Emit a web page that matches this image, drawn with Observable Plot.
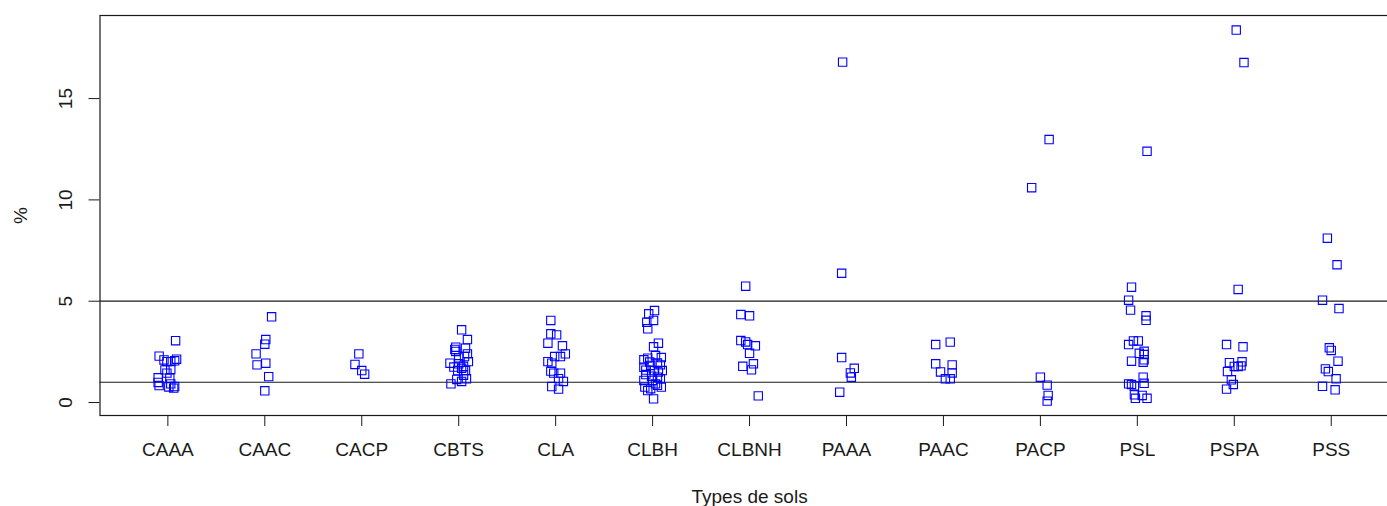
<!DOCTYPE html>
<html>
<head>
<meta charset="utf-8">
<script src="https://cdn.jsdelivr.net/npm/d3@7"></script>
<script src="https://cdn.jsdelivr.net/npm/@observablehq/plot@0.6"></script>
<style>
  html, body { margin: 0; padding: 0; background: white; overflow: hidden; }
</style>
</head>
<body>
<div id="chart"></div>
<script>
// Soil types (x categories)
const categories = ["CAAA","CAAC","CACP","CBTS","CLA","CLBH","CLBNH","PAAA","PAAC","PACP","PSL","PSPA","PSS"];
const yTicks = [0, 5, 10, 15];
const refLines = [1, 5];
const xLabel = "Types de sols";
const yLabel = "%";

// Each point: [value (%), jitter (fraction of category spacing)]
const CAAA = [[3.05,0.08],[2.29,-0.09],[2.02,-0.01],[2.14,0.09],[2.06,0.07],[2.02,0.03],[2.10,-0.04],[1.61,-0.03],[1.63,0.03],[1.45,-0.01],[1.22,-0.10],[1.20,0.02],[0.99,-0.10],[0.92,0.03],[0.84,-0.09],[0.77,0.01],[0.79,0.07],[0.71,0.06]];
const CAAC = [[4.23,0.07],[3.11,0.01],[2.88,0.00],[2.40,-0.09],[1.86,-0.08],[1.94,0.01],[1.28,0.04],[0.58,0.00]];
const CACP = [[2.40,-0.03],[1.88,-0.07],[1.58,0.00],[1.40,0.03]];
const CBTS = [[3.59,0.03],[3.11,0.09],[2.73,-0.03],[2.62,-0.04],[2.52,-0.03],[2.68,0.07],[2.40,0.09],[2.27,0.06],[2.20,0.00],[1.94,-0.09],[1.91,0.00],[2.02,0.10],[1.79,0.05],[1.75,-0.05],[1.69,0.03],[1.58,0.07],[1.58,-0.01],[1.35,0.05],[1.17,0.08],[1.14,-0.02],[1.04,0.03],[0.92,-0.08]];
const CLA = [[4.05,-0.05],[3.39,-0.05],[3.34,0.01],[2.93,-0.08],[2.80,0.07],[2.40,0.10],[2.27,-0.01],[2.27,0.05],[2.02,-0.08],[1.94,-0.04],[1.55,-0.05],[1.45,-0.02],[1.45,0.05],[1.18,0.03],[1.04,0.08],[0.79,-0.04],[0.66,0.03]];
const CLBH = [[4.54,0.02],[4.38,-0.04],[4.05,0.01],[3.96,-0.06],[3.64,-0.05],[2.93,0.06],[2.75,0.01],[2.19,-0.05],[2.22,0.09],[2.32,0.03],[2.11,-0.09],[2.00,-0.03],[1.95,0.05],[1.74,-0.09],[1.83,-0.02],[1.86,0.08],[1.60,-0.07],[1.58,0.10],[1.58,0.02],[1.50,0.06],[1.38,-0.07],[1.30,-0.01],[1.25,0.05],[1.09,-0.09],[1.09,0.00],[1.17,0.08],[0.92,0.03],[0.85,0.05],[0.76,-0.08],[0.68,-0.02],[0.76,0.09],[0.59,-0.05],[0.18,0.01]];
const CLBNH = [[5.74,-0.04],[4.34,-0.09],[4.28,0.00],[3.06,-0.09],[2.99,-0.04],[2.86,-0.02],[2.80,0.06],[2.43,0.00],[1.79,-0.07],[1.91,0.04],[1.61,0.02],[0.33,0.09]];
const PAAA = [[16.80,-0.04],[6.38,-0.05],[2.22,-0.05],[1.69,0.08],[1.46,0.04],[1.25,0.05],[0.51,-0.07]];
const PAAC = [[2.86,-0.08],[2.98,0.07],[1.91,-0.08],[1.86,0.09],[1.51,-0.03],[1.46,0.09],[1.17,0.02],[1.17,0.07]];
const PACP = [[12.98,0.09],[10.60,-0.09],[1.25,0.00],[0.86,0.07],[0.35,0.08],[0.07,0.07]];
const PSL = [[12.40,0.10],[5.69,-0.06],[5.05,-0.09],[4.56,-0.07],[4.28,0.09],[4.06,0.09],[3.04,-0.04],[3.04,0.01],[2.86,-0.09],[2.53,0.07],[2.43,0.02],[2.37,0.07],[2.11,0.07],[2.04,-0.06],[1.99,0.06],[1.25,0.06],[0.95,0.07],[0.92,-0.09],[0.89,-0.06],[0.82,-0.03],[0.38,-0.03],[0.35,0.05],[0.21,-0.02],[0.21,0.10]];
const PSPA = [[18.38,0.02],[16.78,0.10],[5.58,0.04],[2.86,-0.08],[2.75,0.09],[2.01,0.08],[1.97,-0.05],[1.81,0.07],[1.78,0.00],[1.78,0.04],[1.53,-0.07],[1.12,-0.03],[0.89,-0.01],[0.66,-0.08]];
const PSS = [[8.11,-0.04],[6.80,0.06],[5.05,-0.09],[4.64,0.08],[2.70,-0.02],[2.57,0.00],[2.04,0.07],[1.66,-0.06],[1.53,-0.03],[1.17,0.05],[0.80,-0.09],[0.63,0.04]];

const groups = [CAAA, CAAC, CACP, CBTS, CLA, CLBH, CLBNH, PAAA, PAAC, PACP, PSL, PSPA, PSS];
const rows = groups.flatMap((g, i) => g.map(([v, j]) => ({cat: categories[i], idx: i + 1, value: v, jitter: j})));

const font = "'Liberation Sans', Arial, sans-serif";
const ink = "#1a1a1a";

const chart = Plot.plot({
  width: 1387,
  height: 506,
  marginLeft: 99.5,
  marginRight: -11.6,
  marginTop: 15,
  marginBottom: 91,
  x: {domain: [0.3, 13.7], axis: null},
  y: {domain: [-0.64, 19.1], axis: null},
  style: {fontFamily: font, fontSize: "19px", background: "white", overflow: "hidden", color: ink},
  marks: [
    Plot.frame({stroke: ink, strokeWidth: 1.2}),
    Plot.ruleY(refLines, {stroke: ink, strokeWidth: 1.2}),
    Plot.dot(rows, {
      x: d => d.idx + d.jitter,
      y: "value",
      symbol: "square",
      r: 4.7,
      fill: "none",
      stroke: "#0000ff",
      strokeWidth: 1.1
    }),
    Plot.axisX(d3.range(1, categories.length + 1), {
      tickSize: 11,
      tickPadding: 16,
      tickFormat: i => categories[i - 1],
      fontSize: 19,
      stroke: ink,
      fill: ink,
      label: null
    }),
    Plot.axisY(yTicks, {
      tickSize: 11,
      tickFormat: () => "",
      stroke: ink,
      label: null
    }),
    Plot.text(yTicks, {
      y: d => d,
      text: d => String(d),
      frameAnchor: "left",
      textAnchor: "middle",
      lineAnchor: "middle",
      dx: -34,
      rotate: -90,
      fontSize: 19,
      fill: ink
    }),
    Plot.text([yLabel], {
      text: d => d,
      frameAnchor: "left",
      textAnchor: "middle",
      lineAnchor: "middle",
      dx: -79,
      rotate: -90,
      fontSize: 19,
      fill: ink
    }),
    Plot.text([xLabel], {
      text: d => d,
      frameAnchor: "bottom",
      textAnchor: "middle",
      lineAnchor: "middle",
      dy: 81,
      fontSize: 19,
      fill: ink
    })
  ]
});

document.getElementById("chart").appendChild(chart);
</script>
</body>
</html>
